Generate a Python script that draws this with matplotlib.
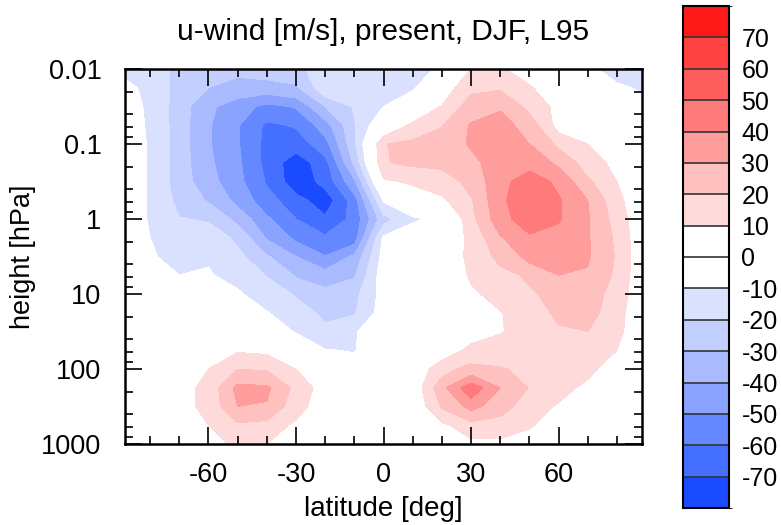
import numpy as np
import matplotlib
matplotlib.use("Agg")
import matplotlib.pyplot as plt
from matplotlib.colors import ListedColormap, BoundaryNorm
from matplotlib.ticker import FixedLocator, NullFormatter, FixedFormatter
import matplotlib.colorbar as mcolorbar

plt.rcParams['font.family'] = ['Liberation Sans', 'DejaVu Sans']

# ---- data -------------------------------------------------------------
lats = [-90, -80, -70, -60, -50, -40, -30, -20, -10, 0, 10, 20, 30, 40, 50, 60, 70, 80, 90]
pres = [0.01, 0.0178, 0.0316, 0.0562, 0.1, 0.178, 0.316, 0.562, 1.0, 1.78, 3.16,
        5.62, 10.0, 17.8, 31.6, 56.2, 100.0, 178.0, 316.0, 562.0, 1000.0]

# zonal wind [m/s], one row per pressure level (top to bottom), columns = lats
u_p0001 = [-11, -16, -22, -24, -27, -25, -23, -14, -14, -13, -11.5, -9.4, 10, 11, 6, 0, -9, -12, -14]
u_p0002 = [-8, -11.5, -24, -30, -35, -35, -32, -13, -16, -12, -11.5, 3.5, 18, 19, 11, 3, -5, -9, -11]
u_p0003 = [-7, -11, -25, -38, -45, -53, -49, -30, -19, -10, 0, 10.5, 25, 29, 17, 7, 0, -5, -8]
u_p0006 = [-6.5, -10.8, -25, -39, -49, -62, -59, -45, -21, 0, 12.3, 19.5, 31, 34, 25.7, 6, 3, -3, -6]
u_p0010 = [-6, -10.6, -25, -39, -49, -63, -66, -54, -22, 19.5, 23, 25, 31, 36, 30, 18, 10, 3, -3]
u_p0018 = [-6, -10.6, -25, -38, -48, -63, -76, -64, -28, 19.5, 21.5, 22, 27, 36, 37, 28, 15, 7, -2]
u_p0032 = [-6, -10.6, -25, -36, -47, -61, -76, -67, -42, 8, 12, 15, 23, 37, 45, 38, 22, 10, -1]
u_p0056 = [-6, -10.6, -23, -31, -43, -56, -66, -76, -55, -9, 0, 8, 19, 38, 47, 41, 30, 13, 0]
u_p0100 = [-6, -10.5, -19.5, -21, -33, -48, -60, -68, -57, -24, -12, -6.5, 17, 36, 46, 41, 31, 16, 0]
u_p0178 = [-5.5, -10, -16, -14, -22, -41, -52, -58, -55, -8, 0, 3, 12, 29, 38, 36, 31, 18, 0]
u_p0316 = [-5, -9, -13, -10.5, -17, -29, -40, -49.5, -38, -6, 1, 4, 12, 23, 33, 34, 31, 19, 0]
u_p0562 = [-4, -7, -10, -9.5, -12, -20.5, -31, -34.5, -31, -4, 0, 3, 11, 16, 22, 30, 29, 18, 0]
u_p10 = [-3, -5, -7, -6, -9, -14, -21, -27, -23, -6, 0, 3, 8.5, 13, 18, 25, 25, 16, 0]
u_p18 = [-2, -3, -4, -3, -5, -9.5, -15, -22.5, -21, -5, 0, 3, 7, 9.5, 15, 22, 24, 14, 0]
u_p32 = [-1, -1, -1, 0, 2, -6, -10.5, -17, -11, -3, 0, 3, 7, 9.5, 13, 18.5, 20, 13, 0]
u_p56 = [0, 1, 3, 5, 9, 8, -3, -9.5, -10.5, -2, 0, 5, 12, 14, 15, 16, 15, 10, 0]
u_p100 = [1, 3, 4, 10, 20, 19, 10, -3, -6, -2, 2, 16, 24, 21, 17, 15, 12, 6, 0]
u_p178 = [2, 4, 6, 13, 33, 32, 17, 5, -2, -1, 2, 27, 47, 30, 19.5, 13, 8, 4, 1]
u_p316 = [1, 3, 6, 13, 30, 29, 14, 4, -1, -1, 0.8, 21, 33, 25, 14, 9, 5, 2, 0]
u_p562 = [0, 1, 4, 10, 18, 16, 8, 2, -1, -1, -1, 7.7, 16, 14, 11, 5, 2, 0, -1]
u_p1000 = [-2, -2, 3, 8, 11, 10, 4, 0, -2, -2, -2, 3, 7, 8, 5, 2, 0, -1, -2]

u_rows = [u_p0001, u_p0002, u_p0003, u_p0006, u_p0010, u_p0018, u_p0032, u_p0056,
          u_p0100, u_p0178, u_p0316, u_p0562, u_p10, u_p18, u_p32, u_p56, u_p100,
          u_p178, u_p316, u_p562, u_p1000]

levels = [-80, -70, -60, -50, -40, -30, -20, -10, 0, 10, 20, 30, 40, 50, 60, 70, 80]
level_colors = ['#1a4bff', '#4570ff', '#6388ff', '#8aa3ff', '#a9baff', '#c2cfff', '#dae1ff',
                '#ffffff', '#ffffff',
                '#ffdada', '#ffc0c0', '#ff9d9d', '#ff7a7a', '#ff5e5e', '#ff4242', '#ff1a1a']
ytick_vals = [0.01, 0.1, 1, 10, 100, 1000]
ytick_labels = ['0.01', '0.1', '1', '10', '100', '1000']

title = 'u-wind [m/s], present, DJF, L95'

# ---- plot -------------------------------------------------------------
W, H = 781, 525
fig = plt.figure(figsize=(W / 100, H / 100), dpi=100)
ax = fig.add_axes([125 / W, (H - 444) / H, (642 - 125) / W, (444 - 69) / H])

cmap = ListedColormap(level_colors)
norm = BoundaryNorm(levels, cmap.N)

U = np.array(u_rows, dtype=float)
ax.contourf(lats, pres, U, levels=levels, cmap=cmap, norm=norm)

ax.set_yscale('log')
ax.set_ylim(1000, 0.01)
ax.set_xlim(-88.6, 88.6)

ax.yaxis.set_major_locator(FixedLocator(ytick_vals))
ax.yaxis.set_major_formatter(FixedFormatter(ytick_labels))
minor_y = [m * 10.0 ** e for e in range(-2, 3) for m in (2, 4, 6, 8)]
ax.yaxis.set_minor_locator(FixedLocator(minor_y))
ax.yaxis.set_minor_formatter(NullFormatter())

ax.xaxis.set_major_locator(FixedLocator([-90, -60, -30, 0, 30, 60, 90]))
ax.set_xticklabels(['', '-60', '-30', '0', '30', '60', ''])
ax.xaxis.set_minor_locator(FixedLocator([v for v in range(-80, 90, 10) if v % 30 != 0]))

ax.tick_params(which='both', direction='in', top=True, right=True, width=1.2, colors='black')
ax.tick_params(which='major', length=12, labelsize=19.5)
ax.tick_params(which='minor', length=6)
ax.tick_params(axis='y', which='major', pad=17)
ax.tick_params(axis='x', which='major', pad=13)
for s in ax.spines.values():
    s.set_linewidth(1.8)

ax.set_xlabel('latitude [deg]', fontsize=20, labelpad=6)
ax.set_ylabel('height [hPa]', fontsize=19.5)
ax.yaxis.set_label_coords((36 - 125) / 517, 0.5)
ax.set_title(title, fontsize=21.5, pad=21)

cax = fig.add_axes([683 / W, (H - 508) / H, (729 - 683) / W, (508 - 6) / H])
cb = mcolorbar.ColorbarBase(cax, cmap=cmap, norm=norm, boundaries=levels,
                            ticks=levels[1:-1], drawedges=True, spacing='uniform')
cb.ax.set_yticklabels([str(v) for v in levels[1:-1]])
cb.ax.tick_params(length=0, pad=9, labelsize=18)
cb.outline.set_linewidth(1.5)
cb.dividers.set_color('#333333')
cb.dividers.set_linewidth(1.2)

fig.savefig('out.png', dpi=100)
